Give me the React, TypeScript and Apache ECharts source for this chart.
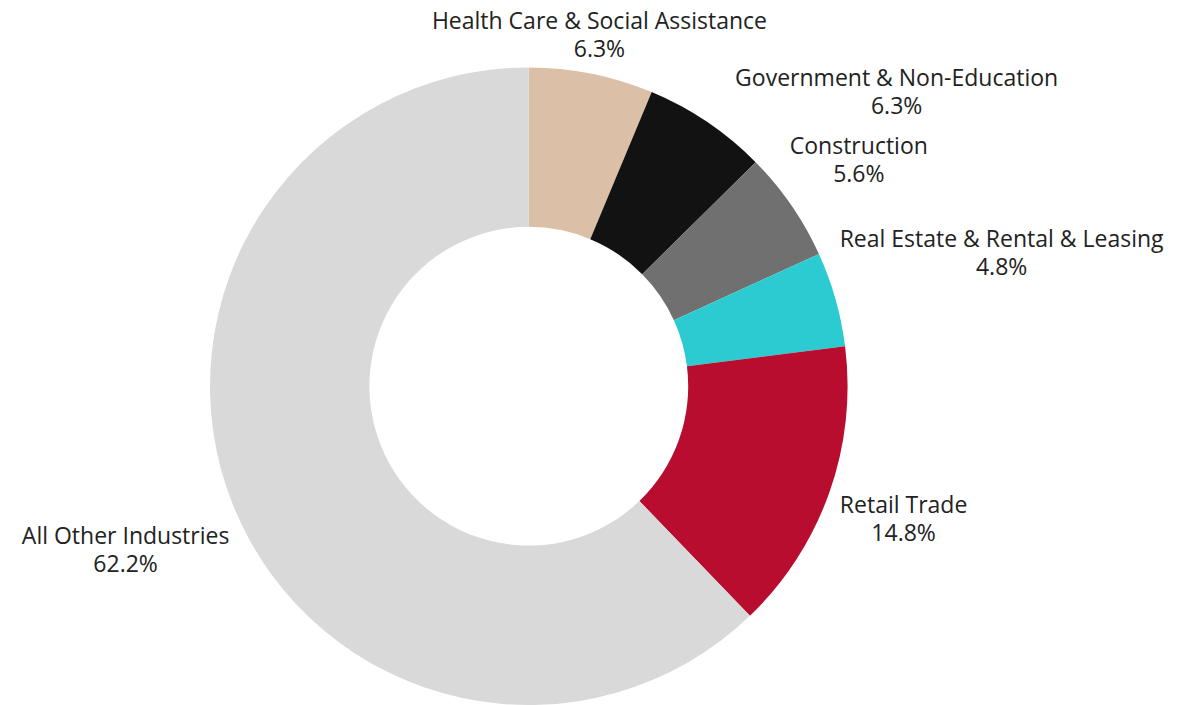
import React, { useEffect, useRef } from "react";
import * as echarts from "echarts";

const CATEGORIES = [
  "Health Care & Social Assistance",
  "Government & Non-Education",
  "Construction",
  "Real Estate & Rental & Leasing",
  "Retail Trade",
  "All Other Industries",
];
const VALUES = [6.3, 6.3, 5.6, 4.8, 14.8, 62.2];
const COLORS = ["#dcbfa7", "#121212", "#6f706f", "#2ccbd2", "#b80d2e", "#d9d9d9"];

const CX = 528.8;
const CY = 386.2;
const R_OUT = 318.8;
const R_IN = 159.4;
const LABEL_RING = 328;
const TOP_LIMIT = 6;

export default function App() {
  const ref = useRef<HTMLDivElement>(null);
  useEffect(() => {
    if (!ref.current) return;
    const chart = echarts.init(ref.current, null, { renderer: "svg" });
    const total = VALUES.reduce((a, b) => a + b, 0);
    const mids: number[] = [];
    let acc = 0;
    VALUES.forEach((v) => {
      mids.push(((acc + v / 2) / total) * Math.PI * 2);
      acc += v;
    });
    const placed: Record<number, { x0: number; y0: number; x1: number; y1: number }> = {};

    const place = (t: number, w: number, h: number) => {
      const vx = Math.sin(t);
      const vy = -Math.cos(t);
      const d = LABEL_RING + (Math.abs(vx) * w) / 2 + (Math.abs(vy) * h) / 2;
      let x = CX + vx * d;
      let y = CY + vy * d;
      if (y - h / 2 < TOP_LIMIT && vy < 0) {
        const ny = TOP_LIMIT + h / 2;
        const dd = (CY - ny) / -vy;
        x = CX + vx * dd;
        y = ny;
      }
      return { x, y };
    };

    const overlaps = (r: { x0: number; y0: number; x1: number; y1: number }, self: number) =>
      Object.keys(placed).some((k) => {
        if (Number(k) === self) return false;
        const o = placed[Number(k)];
        return r.x0 < o.x1 && r.x1 > o.x0 && r.y0 < o.y1 && r.y1 > o.y0;
      });

    chart.setOption({
      animation: false,
      series: [
        {
          type: "pie",
          center: [CX, CY],
          radius: [R_IN, R_OUT],
          startAngle: 90,
          clockwise: true,
          avoidLabelOverlap: false,
          itemStyle: { borderWidth: 0 },
          emphasis: { disabled: true },
          labelLine: { show: false },
          label: {
            show: true,
            position: "outside",
            fontFamily: "Open Sans",
            fontSize: 23,
            lineHeight: 28,
            color: "#222222",
            align: "center",
            formatter: (p: any) => `${p.name}\n${Number(p.value).toFixed(1)}%`,
          },
          labelLayout: (params: any) => {
            const i = params.dataIndex;
            const w = params.labelRect.width;
            const h = params.labelRect.height;
            let t = mids[i];
            let pos = place(t, w, h);
            let rect = { x0: pos.x - w / 2, y0: pos.y - h / 2, x1: pos.x + w / 2, y1: pos.y + h / 2 };
            let iter = 0;
            while (overlaps(rect, i) && iter < 400) {
              t += (0.25 * Math.PI) / 180;
              pos = place(t, w, h);
              rect = { x0: pos.x - w / 2, y0: pos.y - h / 2, x1: pos.x + w / 2, y1: pos.y + h / 2 };
              iter++;
            }
            placed[i] = rect;
            return { x: pos.x, y: pos.y, align: "center", verticalAlign: "middle" };
          },
          data: CATEGORIES.map((name, i) => ({
            name,
            value: VALUES[i],
            itemStyle: { color: COLORS[i] },
          })),
        },
      ],
    });
    return () => chart.dispose();
  }, []);
  return (
    <div
      ref={ref}
      style={{ position: "absolute", left: 0, top: 0, width: 1194, height: 705, background: "#ffffff" }}
    />
  );
}
